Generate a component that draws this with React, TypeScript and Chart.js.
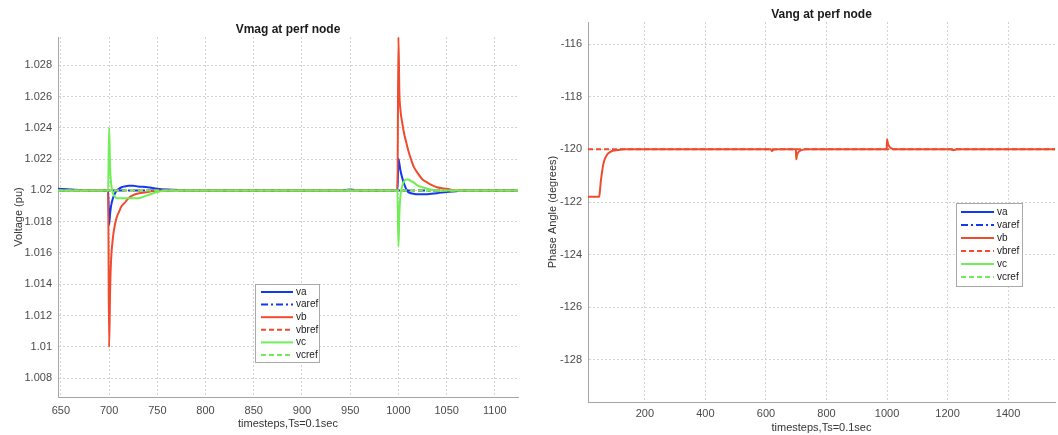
import React, { useEffect, useRef } from "react";
import { Chart, registerables } from "chart.js";

Chart.register(...registerables);

// ---------------- Vmag at perf node ----------------
const vmagTime = [647, 660, 680, 690, 699, 700, 701, 702, 704, 706, 708, 710, 713, 716, 720, 725, 730, 740, 750, 760, 780, 800, 850, 900, 940, 950, 960, 990, 999, 1000, 1001, 1002, 1004, 1006, 1008, 1010, 1013, 1016, 1020, 1025, 1030, 1040, 1050, 1060, 1070, 1080, 1100, 1124];
const vmagVa = [1.0201, 1.02005, 1.02, 1.02, 1.02, 1.0178, 1.0185, 1.019, 1.0195, 1.0198, 1.02, 1.0201, 1.0202, 1.02025, 1.0203, 1.0203, 1.02025, 1.0202, 1.0201, 1.02005, 1.02, 1.02, 1.02, 1.02, 1.02, 1.02005, 1.02, 1.02, 1.02, 1.022, 1.0217, 1.0213, 1.0208, 1.0204, 1.0201, 1.0199, 1.01982, 1.01978, 1.01975, 1.01975, 1.01976, 1.01982, 1.0199, 1.01995, 1.02, 1.02, 1.02, 1.02];
const vmagVb = [1.02, 1.02, 1.02, 1.02, 1.02, 1.01, 1.0135, 1.0155, 1.017, 1.0178, 1.0183, 1.0186, 1.019, 1.0192, 1.0195, 1.0197, 1.0198, 1.0199, 1.02, 1.02, 1.02, 1.02, 1.02, 1.02, 1.02, 1.02, 1.02, 1.02, 1.02, 1.0298, 1.0262, 1.0252, 1.0243, 1.0236, 1.0231, 1.0226, 1.022, 1.0215, 1.0211, 1.0207, 1.0205, 1.0202, 1.0201, 1.02, 1.02, 1.02, 1.02, 1.02];
const vmagVc = [1.02, 1.02, 1.02, 1.02, 1.02, 1.024, 1.0215, 1.0205, 1.0198, 1.0196, 1.0195, 1.0195, 1.0195, 1.0195, 1.0195, 1.0195, 1.0195, 1.0197, 1.0199, 1.02, 1.02, 1.02, 1.02, 1.02, 1.02, 1.02, 1.02, 1.02, 1.02, 1.0164, 1.0185, 1.0196, 1.0203, 1.0206, 1.0207, 1.0207, 1.0206, 1.0205, 1.0203, 1.0202, 1.0201, 1.02, 1.02, 1.02, 1.02, 1.02, 1.02, 1.02];
const vmagRefTime = [647, 1124];
const vmagVaref = [1.02, 1.02];
const vmagVbref = [1.02, 1.02];
const vmagVcref = [1.02, 1.02];
const vmagXTicks = [650, 700, 750, 800, 850, 900, 950, 1000, 1050, 1100];
const vmagYTicks = [1.008, 1.01, 1.012, 1.014, 1.016, 1.018, 1.02, 1.022, 1.024, 1.026, 1.028];

// ---------------- Vang at perf node ----------------
const vangTime = [12, 49, 52, 55, 58, 62, 67, 73, 80, 90, 100, 112, 130, 600, 615, 620, 625, 640, 699, 700, 702, 705, 710, 715, 720, 730, 999, 1000, 1003, 1008, 1015, 1025, 1210, 1220, 1230, 1555];
const vangVb = [-121.8, -121.8, -121.5, -121.15, -120.9, -120.6, -120.38, -120.24, -120.14, -120.07, -120.04, -120.02, -120, -120, -120, -120.06, -120.01, -120, -120, -120.38, -120.25, -120.14, -120.07, -120.04, -120.02, -120, -120, -119.62, -119.78, -119.9, -119.96, -120, -120, -120.03, -120, -120];
const vangRefTime = [12, 1555];
const vangVa = [0, 0];
const vangVaref = [0, 0];
const vangVbref = [-120, -120];
const vangVc = [120, 120];
const vangVcref = [120, 120];
const vangXTicks = [200, 400, 600, 800, 1000, 1200, 1400];
const vangYTicks = [-128, -126, -124, -122, -120, -118, -116];

const seriesLabels = ["va", "varef", "vb", "vbref", "vc", "vcref"];

const BLUE = "#1238f2";
const RED = "#f04b2d";
const GREEN = "#70ee58";
const FONT = "'Liberation Sans', Arial, sans-serif";

const pts = (xs: number[], ys: number[]) => xs.map((x, i) => ({ x, y: ys[i] }));

function makeDatasets(
  times: number[][],
  values: number[][]
) {
  const colors = [BLUE, BLUE, RED, RED, GREEN, GREEN];
  const dashes = [[], [7, 3, 2, 3], [], [5, 3], [], [5, 3]];
  return seriesLabels.map((label, i) => ({
    label,
    data: pts(times[i], values[i]),
    borderColor: colors[i],
    backgroundColor: colors[i],
    borderWidth: 2,
    borderDash: dashes[i],
    pointRadius: 0,
    fill: false,
    tension: 0,
    cubicInterpolationMode: i % 2 === 0 ? "monotone" : "default",
    order: 6 - i,
  }));
}

const boxLegend = {
  id: "boxLegend",
  afterDraw(chart: any, _args: any, o: any) {
    const ctx = chart.ctx;
    ctx.save();
    ctx.fillStyle = "#ffffff";
    ctx.fillRect(o.x, o.y, o.w, o.h);
    ctx.strokeStyle = "#a9a9a9";
    ctx.lineWidth = 1;
    ctx.setLineDash([]);
    ctx.strokeRect(o.x + 0.5, o.y + 0.5, o.w, o.h);
    chart.data.datasets.forEach((ds: any, i: number) => {
      const yy = o.y0 + i * o.dy;
      ctx.save();
      ctx.strokeStyle = ds.borderColor;
      ctx.lineWidth = ds.borderWidth;
      ctx.setLineDash(ds.borderDash || []);
      ctx.beginPath();
      ctx.moveTo(o.x0, yy);
      ctx.lineTo(o.x1, yy);
      ctx.stroke();
      ctx.restore();
      ctx.fillStyle = "#1a1a1a";
      ctx.font = `10px ${FONT}`;
      ctx.textBaseline = "middle";
      ctx.textAlign = "left";
      ctx.fillText(ds.label, o.tx, yy);
    });
    ctx.restore();
  },
};

function axis(opts: any) {
  return {
    type: "linear",
    min: opts.min,
    max: opts.max,
    afterBuildTicks: (s: any) => {
      s.ticks = opts.ticks.map((v: number) => ({ value: v }));
    },
    afterFit: (s: any) => {
      if (opts.width !== undefined) s.width = opts.width;
      if (opts.height !== undefined) s.height = opts.height;
    },
    ticks: {
      autoSkip: false,
      maxRotation: 0,
      padding: opts.pad,
      color: "#4a4a4a",
      font: { family: FONT, size: 11 },
      callback: (v: number) => String(Math.round(v * 1000) / 1000),
    },
    grid: { display: true, color: "#d2d2d2", lineWidth: 1, drawTicks: false },
    border: { display: true, color: "#a6a6a6", width: 1, dash: [2, 2] },
    title: {
      display: true,
      text: opts.title,
      color: "#333333",
      font: { family: FONT, size: 11 },
      padding: opts.titlePad,
    },
  };
}

function buildConfig(p: any) {
  return {
    type: "line",
    data: { datasets: p.datasets },
    plugins: [boxLegend],
    options: {
      animation: false,
      responsive: false,
      maintainAspectRatio: false,
      events: [],
      layout: { padding: { left: 0, right: p.padRight, top: 0, bottom: 0 } },
      plugins: {
        legend: { display: false },
        tooltip: { enabled: false },
        title: {
          display: true,
          text: p.title,
          fullSize: false,
          color: "#1a1a1a",
          font: { family: FONT, size: 12, weight: "bold" },
          padding: p.titlePad,
        },
        boxLegend: p.legend,
      },
      scales: { x: p.x, y: p.y },
    },
  };
}

function ChartCanvas({ config, left, width }: any) {
  const ref = useRef<HTMLCanvasElement>(null);
  useEffect(() => {
    const chart = new Chart(ref.current as HTMLCanvasElement, config());
    return () => chart.destroy();
  }, []);
  return (
    <canvas
      ref={ref}
      width={width}
      height={435}
      style={{ position: "absolute", left, top: 0, width, height: 435, display: "block" }}
    />
  );
}

const vmagConfig = () =>
  buildConfig({
    title: "Vmag at perf node",
    titlePad: { top: 22, bottom: 0.6 },
    padRight: 12,
    datasets: makeDatasets(
      [vmagTime, vmagRefTime, vmagTime, vmagRefTime, vmagTime, vmagRefTime],
      [vmagVa, vmagVaref, vmagVb, vmagVbref, vmagVc, vmagVcref]
    ),
    legend: { x: 255, y: 284, w: 64, h: 78, x0: 261, x1: 293, tx: 296, y0: 292, dy: 12.6 },
    x: axis({ min: 647, max: 1124, ticks: vmagXTicks, height: 38, pad: 7, title: "timesteps,Ts=0.1sec", titlePad: { top: 0, bottom: 4 } }),
    y: axis({ min: 1.0068, max: 1.0298, ticks: vmagYTicks, width: 58, pad: 6, title: "Voltage (pu)", titlePad: { top: 12, bottom: 0 } }),
  });

const vangConfig = () =>
  buildConfig({
    title: "Vang at perf node",
    titlePad: { top: 7, bottom: 0.6 },
    padRight: 3,
    datasets: makeDatasets(
      [vangRefTime, vangRefTime, vangTime, vangRefTime, vangRefTime, vangRefTime],
      [vangVa, vangVaref, vangVb, vangVbref, vangVc, vangVcref]
    ),
    legend: { x: 426, y: 203, w: 66, h: 83, x0: 431, x1: 464, tx: 467, y0: 212, dy: 13 },
    x: axis({ min: 12, max: 1555, ticks: vangXTicks, height: 33, pad: 5, title: "timesteps,Ts=0.1sec", titlePad: { top: 0, bottom: 0.5 } }),
    y: axis({ min: -129.6, max: -115.16, ticks: vangYTicks, width: 58, pad: 6, title: "Phase Angle (degrees)", titlePad: { top: 16, bottom: 0 } }),
  });

export default function App() {
  return (
    <div style={{ position: "absolute", left: 0, top: 0, width: 1058, height: 435, background: "#ffffff", overflow: "hidden" }}>
      <ChartCanvas config={vmagConfig} left={0} width={530} />
      <ChartCanvas config={vangConfig} left={530} width={528} />
    </div>
  );
}
